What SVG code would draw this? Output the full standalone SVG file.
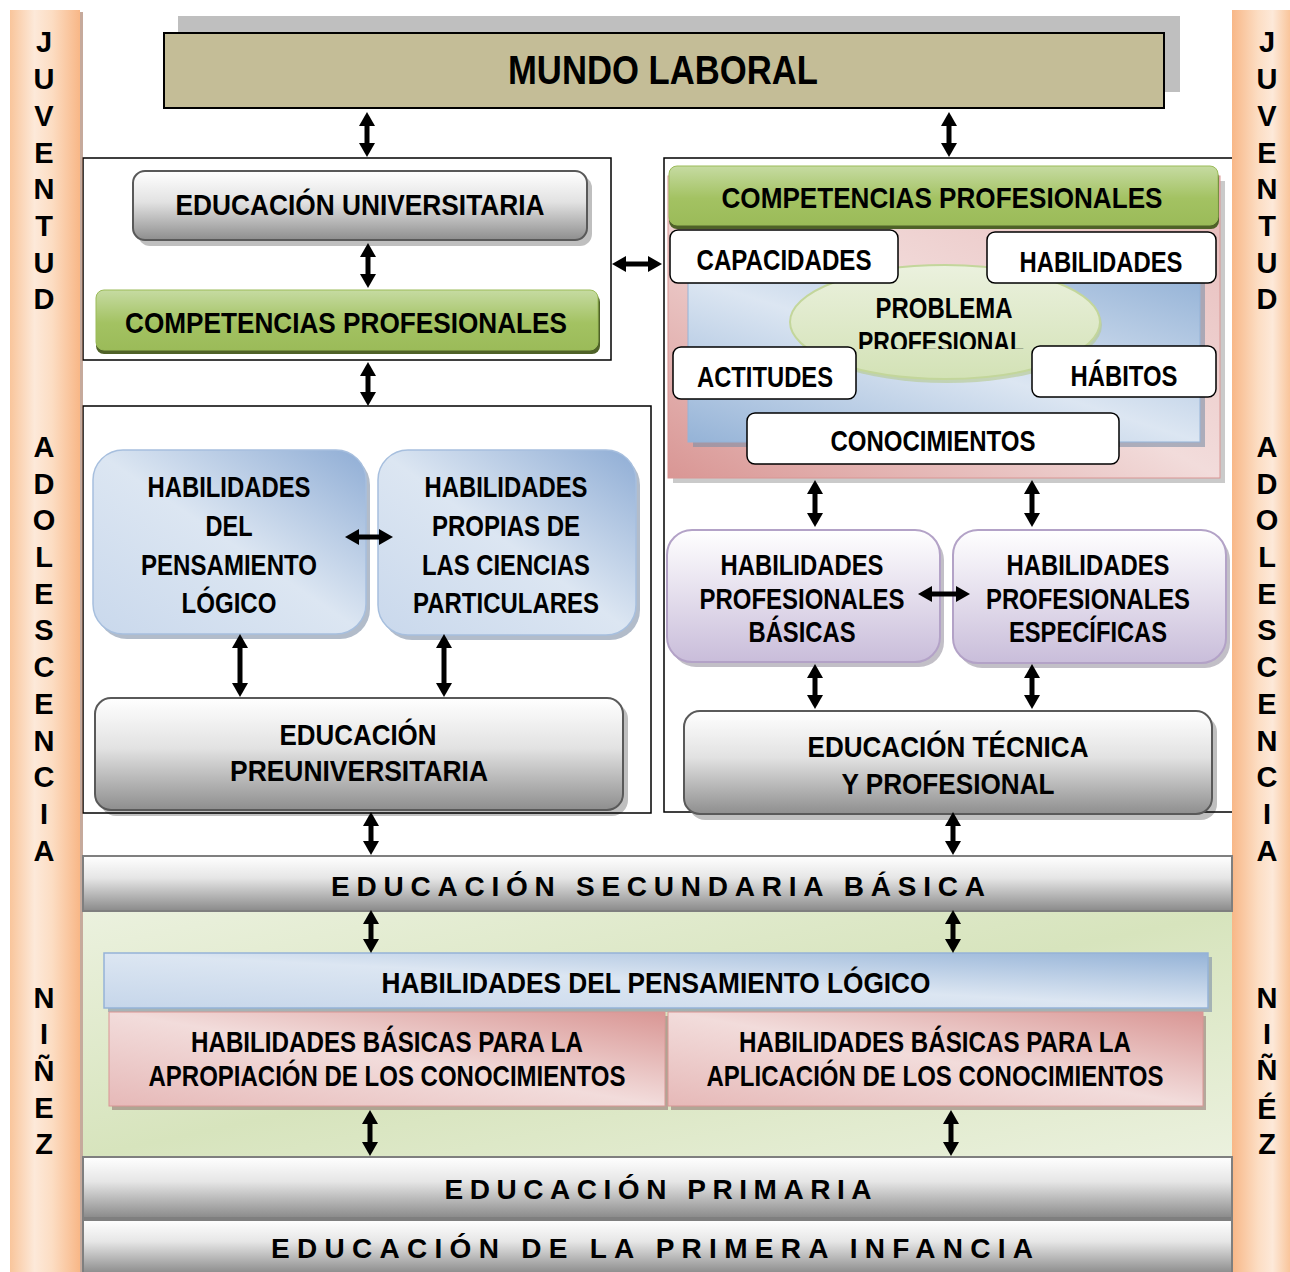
<svg xmlns="http://www.w3.org/2000/svg" width="1290" height="1272" viewBox="0 0 1290 1272">
<defs>
<style>
.t{font-family:"Liberation Sans Narrow","Liberation Sans",Arial,sans-serif;font-weight:bold;font-size:30px;fill:#000;text-anchor:middle}
.v{font-family:"Liberation Sans",Arial,sans-serif;font-weight:bold;font-size:29px;fill:#000;text-anchor:middle}
.band{font-family:"Liberation Sans",Arial,sans-serif;font-weight:bold;font-size:28px;fill:#000;text-anchor:middle}
.frame{fill:#fff;stroke:#000;stroke-width:1.5}
.gray{fill:url(#gGray);stroke:#595959;stroke-width:2}
.shadow{fill:#000;opacity:0.25}
.wbox{fill:#fff;stroke:#000;stroke-width:1.5}
.arr{stroke:#000;stroke-width:5;fill:none;marker-start:url(#ah);marker-end:url(#ah)}
</style>
<marker id="ah" viewBox="0 0 14 16" markerWidth="14" markerHeight="16" refX="2" refY="8" orient="auto-start-reverse" markerUnits="userSpaceOnUse"><path d="M0,0 L14,8 L0,16 z" fill="#000"/></marker>
<linearGradient id="gOrange" x1="0" y1="0" x2="1" y2="0"><stop offset="0" stop-color="#F9C59B"/><stop offset="0.35" stop-color="#FDE9D9"/><stop offset="0.6" stop-color="#FCDDC3"/><stop offset="1" stop-color="#F8B787"/></linearGradient>
<linearGradient id="gOrangeR" x1="0" y1="0" x2="1" y2="0"><stop offset="0" stop-color="#F8B787"/><stop offset="0.45" stop-color="#FCDDC3"/><stop offset="0.7" stop-color="#FDE9D9"/><stop offset="1" stop-color="#F9C59B"/></linearGradient>
<linearGradient id="gGray" x1="0" y1="0" x2="0" y2="1"><stop offset="0" stop-color="#FFFFFF"/><stop offset="0.45" stop-color="#E2E2E2"/><stop offset="1" stop-color="#8E8E8E"/></linearGradient>
<linearGradient id="gBand" x1="0" y1="0" x2="0" y2="1"><stop offset="0" stop-color="#FFFFFF"/><stop offset="0.4" stop-color="#E6E6E6"/><stop offset="1" stop-color="#8A8A8A"/></linearGradient>
<linearGradient id="gGreen" x1="0" y1="0" x2="0" y2="1"><stop offset="0" stop-color="#C6DBA2"/><stop offset="0.55" stop-color="#A3C262"/><stop offset="1" stop-color="#9BBB59"/></linearGradient>
<linearGradient id="gBlue" x1="1" y1="0" x2="0" y2="1"><stop offset="0" stop-color="#8FADD5"/><stop offset="0.5" stop-color="#DCE6F2"/><stop offset="1" stop-color="#C9D8EC"/></linearGradient>
<linearGradient id="gBlueBand" x1="1" y1="0" x2="0" y2="1"><stop offset="0" stop-color="#95B3D7"/><stop offset="0.5" stop-color="#DCE6F2"/><stop offset="1" stop-color="#C6D6EA"/></linearGradient>
<linearGradient id="gPurple" x1="0" y1="0" x2="0" y2="1"><stop offset="0" stop-color="#FFFFFF"/><stop offset="1" stop-color="#C9BDDA"/></linearGradient>
<linearGradient id="gPink" x1="1" y1="0" x2="0" y2="1"><stop offset="0" stop-color="#D99694"/><stop offset="0.5" stop-color="#F2DCDB"/><stop offset="1" stop-color="#E6B9B8"/></linearGradient>
<linearGradient id="gPinkBg" x1="0" y1="1" x2="1" y2="0"><stop offset="0" stop-color="#D99694"/><stop offset="0.5" stop-color="#F2DCDB"/><stop offset="1" stop-color="#E6B9B8"/></linearGradient>
<linearGradient id="gInner" x1="0" y1="1" x2="1" y2="0"><stop offset="0" stop-color="#95B3D7"/><stop offset="0.5" stop-color="#DCE6F2"/><stop offset="1" stop-color="#95B3D7"/></linearGradient>
<linearGradient id="gEll" x1="0" y1="0" x2="0" y2="1"><stop offset="0" stop-color="#EBF1DE"/><stop offset="1" stop-color="#D3E2B6"/></linearGradient>
<linearGradient id="gGreenBg" x1="0" y1="0" x2="1" y2="1"><stop offset="0" stop-color="#EBF1DE"/><stop offset="0.5" stop-color="#D7E4BD"/><stop offset="1" stop-color="#EBF1DE"/></linearGradient>
<clipPath id="clipEll"><rect x="780" y="260" width="330" height="89"/></clipPath>
</defs>

<rect width="1290" height="1272" fill="#fff"/>

<!-- frames -->
<g id="frame-universidad"><rect class="frame" x="83" y="158" width="528" height="202"/></g>
<g id="frame-preuniversitaria"><rect class="frame" x="83" y="406" width="568" height="407"/></g>
<g id="frame-tecnica"><rect class="frame" x="664" y="158" width="572" height="654"/></g>

<!-- side bars -->
<g id="bar-left">
<rect x="80" y="12" width="3" height="1260" fill="#A0725A" opacity="0.6"/>
<rect x="10" y="10" width="70" height="1262" fill="url(#gOrange)"/>
<text class="v"><tspan x="44" y="52">J</tspan><tspan x="44" y="89">U</tspan><tspan x="44" y="126">V</tspan><tspan x="44" y="163">E</tspan><tspan x="44" y="199">N</tspan><tspan x="44" y="236">T</tspan><tspan x="44" y="273">U</tspan><tspan x="44" y="309">D</tspan></text>
<text class="v"><tspan x="44" y="457">A</tspan><tspan x="44" y="494">D</tspan><tspan x="44" y="530">O</tspan><tspan x="44" y="567">L</tspan><tspan x="44" y="604">E</tspan><tspan x="44" y="640">S</tspan><tspan x="44" y="677">C</tspan><tspan x="44" y="714">E</tspan><tspan x="44" y="751">N</tspan><tspan x="44" y="787">C</tspan><tspan x="44" y="824">I</tspan><tspan x="44" y="861">A</tspan></text>
<text class="v"><tspan x="44" y="1008">N</tspan><tspan x="44" y="1044">I</tspan><tspan x="44" y="1081">Ñ</tspan><tspan x="44" y="1118">E</tspan><tspan x="44" y="1154">Z</tspan></text>
</g>
<g id="bar-right">
<rect x="1232" y="10" width="58" height="1262" fill="url(#gOrangeR)"/>
<text class="v"><tspan x="1267" y="52">J</tspan><tspan x="1267" y="89">U</tspan><tspan x="1267" y="126">V</tspan><tspan x="1267" y="163">E</tspan><tspan x="1267" y="199">N</tspan><tspan x="1267" y="236">T</tspan><tspan x="1267" y="273">U</tspan><tspan x="1267" y="309">D</tspan></text>
<text class="v"><tspan x="1267" y="457">A</tspan><tspan x="1267" y="494">D</tspan><tspan x="1267" y="530">O</tspan><tspan x="1267" y="567">L</tspan><tspan x="1267" y="604">E</tspan><tspan x="1267" y="640">S</tspan><tspan x="1267" y="677">C</tspan><tspan x="1267" y="714">E</tspan><tspan x="1267" y="751">N</tspan><tspan x="1267" y="787">C</tspan><tspan x="1267" y="824">I</tspan><tspan x="1267" y="861">A</tspan></text>
<text class="v"><tspan x="1267" y="1008">N</tspan><tspan x="1267" y="1044">I</tspan><tspan x="1267" y="1080">Ñ</tspan><tspan x="1267" y="1119">É</tspan><tspan x="1267" y="1154">Z</tspan></text>
</g>

<!-- Mundo laboral -->
<g id="mundo-laboral">
<rect x="178" y="16" width="1002" height="76" fill="#BFBFBF"/>
<rect x="164" y="33" width="1000" height="75" fill="#C4BD97" stroke="#000" stroke-width="2"/>
<text class="t" x="663" y="84" style="font-size:40px" textLength="310" lengthAdjust="spacingAndGlyphs">MUNDO LABORAL</text>
</g>

<g id="educacion-universitaria">
<rect class="shadow" x="138" y="176" width="454" height="70" rx="12"/>
<rect class="gray" x="133" y="171" width="454" height="69" rx="12"/>
<text class="t" x="360" y="215" textLength="369" lengthAdjust="spacingAndGlyphs">EDUCACIÓN UNIVERSITARIA</text>
</g>

<g id="competencias-izq">
<rect x="96" y="294" width="504" height="60" rx="8" fill="#4F6228"/>
<rect x="96" y="290" width="502" height="60" rx="8" fill="url(#gGreen)" stroke="#9BBB59" stroke-width="1"/>
<text class="t" x="346" y="333" textLength="442" lengthAdjust="spacingAndGlyphs">COMPETENCIAS PROFESIONALES</text>
</g>

<g id="hab-pensamiento">
<rect x="97" y="455" width="273" height="184" rx="30" fill="#7F8FA6" opacity="0.6"/>
<rect x="93" y="450" width="273" height="184" rx="30" fill="url(#gBlue)" stroke="#A7BFDE" stroke-width="1.5"/>
<text class="t"><tspan x="229" y="497" textLength="163" lengthAdjust="spacingAndGlyphs">HABILIDADES</tspan><tspan x="229" y="536" textLength="47" lengthAdjust="spacingAndGlyphs">DEL</tspan><tspan x="229" y="575" textLength="176" lengthAdjust="spacingAndGlyphs">PENSAMIENTO</tspan><tspan x="229" y="613" textLength="95" lengthAdjust="spacingAndGlyphs">LÓGICO</tspan></text>
</g>

<g id="hab-ciencias">
<rect x="382" y="455" width="258" height="185" rx="30" fill="#7F8FA6" opacity="0.6"/>
<rect x="378" y="450" width="258" height="185" rx="30" fill="url(#gBlue)" stroke="#A7BFDE" stroke-width="1.5"/>
<text class="t"><tspan x="506" y="497" textLength="163" lengthAdjust="spacingAndGlyphs">HABILIDADES</tspan><tspan x="506" y="536" textLength="148" lengthAdjust="spacingAndGlyphs">PROPIAS DE</tspan><tspan x="506" y="575" textLength="168" lengthAdjust="spacingAndGlyphs">LAS CIENCIAS</tspan><tspan x="506" y="613" textLength="186" lengthAdjust="spacingAndGlyphs">PARTICULARES</tspan></text>
</g>

<g id="educacion-preuniversitaria">
<rect class="shadow" x="100" y="703" width="528" height="113" rx="16"/>
<rect class="gray" x="95" y="698" width="528" height="112" rx="16"/>
<text class="t"><tspan x="358" y="745" textLength="157" lengthAdjust="spacingAndGlyphs">EDUCACIÓN</tspan><tspan x="359" y="781" textLength="258" lengthAdjust="spacingAndGlyphs">PREUNIVERSITARIA</tspan></text>
</g>

<!-- right competencias cluster -->
<g id="competencias-der">
<rect x="673" y="181" width="552" height="302" fill="#A6A6A6" opacity="0.6"/>
<rect x="668" y="176" width="552" height="302" fill="url(#gPinkBg)" stroke="#D99694" stroke-width="1"/>
<rect x="693" y="282" width="512" height="165" fill="#7F8FA6" opacity="0.6"/>
<rect x="688" y="277" width="512" height="165" fill="url(#gInner)" stroke="#95B3D7" stroke-width="1"/>
<rect x="669" y="170" width="550" height="59" rx="8" fill="#4F6228"/>
<rect x="669" y="166" width="549" height="59" rx="8" fill="url(#gGreen)" stroke="#9BBB59" stroke-width="1"/>
<text class="t" x="942" y="208" textLength="441" lengthAdjust="spacingAndGlyphs">COMPETENCIAS PROFESIONALES</text>
</g>

<g id="problema-profesional">
<ellipse cx="947" cy="325" rx="155" ry="58" fill="#B5C98E" opacity="0.6"/>
<ellipse cx="945" cy="322" rx="155" ry="57" fill="url(#gEll)" stroke="#C3D69B" stroke-width="2"/>
<text class="t" clip-path="url(#clipEll)"><tspan x="944" y="318" textLength="137" lengthAdjust="spacingAndGlyphs">PROBLEMA</tspan><tspan x="941" y="352" textLength="166" lengthAdjust="spacingAndGlyphs">PROFESIONAL</tspan></text>
</g>

<g id="capacidades">
<rect class="wbox" x="670" y="230" width="228" height="53" rx="8"/>
<text class="t" x="784" y="270" textLength="175" lengthAdjust="spacingAndGlyphs">CAPACIDADES</text>
</g>
<g id="habilidades">
<rect class="wbox" x="987" y="232" width="229" height="51" rx="8"/>
<text class="t" x="1101" y="272" textLength="163" lengthAdjust="spacingAndGlyphs">HABILIDADES</text>
</g>
<g id="actitudes">
<rect class="wbox" x="673" y="347" width="183" height="52" rx="8"/>
<text class="t" x="765" y="387" textLength="136" lengthAdjust="spacingAndGlyphs">ACTITUDES</text>
</g>
<g id="habitos">
<rect class="wbox" x="1032" y="346" width="184" height="51" rx="8"/>
<text class="t" x="1124" y="386" textLength="107" lengthAdjust="spacingAndGlyphs">HÁBITOS</text>
</g>
<g id="conocimientos">
<rect class="wbox" x="747" y="413" width="372" height="51" rx="8"/>
<text class="t" x="933" y="451" textLength="205" lengthAdjust="spacingAndGlyphs">CONOCIMIENTOS</text>
</g>

<g id="hab-prof-basicas">
<rect x="671" y="535" width="273" height="132" rx="25" fill="#8F8A99" opacity="0.55"/>
<rect x="667" y="530" width="273" height="132" rx="25" fill="url(#gPurple)" stroke="#B3A2C7" stroke-width="2"/>
<text class="t"><tspan x="802" y="575" textLength="163" lengthAdjust="spacingAndGlyphs">HABILIDADES</tspan><tspan x="802" y="609" textLength="205" lengthAdjust="spacingAndGlyphs">PROFESIONALES</tspan><tspan x="802" y="642" textLength="107" lengthAdjust="spacingAndGlyphs">BÁSICAS</tspan></text>
</g>
<g id="hab-prof-especificas">
<rect x="957" y="535" width="273" height="133" rx="25" fill="#8F8A99" opacity="0.55"/>
<rect x="953" y="530" width="273" height="133" rx="25" fill="url(#gPurple)" stroke="#B3A2C7" stroke-width="2"/>
<text class="t"><tspan x="1088" y="575" textLength="163" lengthAdjust="spacingAndGlyphs">HABILIDADES</tspan><tspan x="1088" y="609" textLength="204" lengthAdjust="spacingAndGlyphs">PROFESIONALES</tspan><tspan x="1088" y="642" textLength="158" lengthAdjust="spacingAndGlyphs">ESPECÍFICAS</tspan></text>
</g>

<g id="educacion-tecnica">
<rect class="shadow" x="689" y="716" width="528" height="104" rx="16"/>
<rect class="gray" x="684" y="711" width="528" height="103" rx="16"/>
<text class="t"><tspan x="948" y="757" textLength="281" lengthAdjust="spacingAndGlyphs">EDUCACIÓN TÉCNICA</tspan><tspan x="948" y="794" textLength="213" lengthAdjust="spacingAndGlyphs">Y PROFESIONAL</tspan></text>
</g>

<!-- lower section -->
<g id="zona-ninez"><rect x="83" y="912" width="1149" height="245" fill="url(#gGreenBg)"/></g>

<g id="educacion-secundaria">
<rect x="83" y="856" width="1149" height="55" fill="url(#gBand)" stroke="#7F7F7F" stroke-width="2"/>
<text class="band" x="658" y="896" textLength="654" lengthAdjust="spacing">EDUCACIÓN  SECUNDARIA  BÁSICA</text>
</g>

<g id="hab-pensamiento-logico">
<rect x="108" y="957" width="1104" height="55" fill="#7F8FA6" opacity="0.6"/>
<rect x="104" y="953" width="1104" height="55" fill="url(#gBlueBand)" stroke="#95B3D7" stroke-width="1.5"/>
<text class="t" x="656" y="993" textLength="549" lengthAdjust="spacingAndGlyphs">HABILIDADES DEL PENSAMIENTO LÓGICO</text>
</g>

<g id="hab-apropiacion">
<rect x="112" y="1016" width="556" height="94" fill="#8C6F6E" opacity="0.55"/>
<rect x="109" y="1012" width="556" height="94" fill="url(#gPink)" stroke="#D99694" stroke-width="1"/>
<text class="t"><tspan x="387" y="1052" textLength="392" lengthAdjust="spacingAndGlyphs">HABILIDADES BÁSICAS PARA LA</tspan><tspan x="387" y="1086" textLength="477" lengthAdjust="spacingAndGlyphs">APROPIACIÓN DE LOS CONOCIMIENTOS</tspan></text>
</g>
<g id="hab-aplicacion">
<rect x="671" y="1016" width="535" height="94" fill="#8C6F6E" opacity="0.55"/>
<rect x="668" y="1012" width="535" height="94" fill="url(#gPink)" stroke="#D99694" stroke-width="1"/>
<text class="t"><tspan x="935" y="1052" textLength="392" lengthAdjust="spacingAndGlyphs">HABILIDADES BÁSICAS PARA LA</tspan><tspan x="935" y="1086" textLength="457" lengthAdjust="spacingAndGlyphs">APLICACIÓN DE LOS CONOCIMIENTOS</tspan></text>
</g>

<g id="educacion-primaria">
<rect x="83" y="1157" width="1149" height="61" fill="url(#gBand)" stroke="#7F7F7F" stroke-width="2"/>
<text class="band" x="658" y="1199" textLength="427" lengthAdjust="spacing">EDUCACIÓN  PRIMARIA</text>
</g>
<g id="educacion-primera-infancia">
<rect x="83" y="1220" width="1149" height="54" fill="url(#gBand)" stroke="#7F7F7F" stroke-width="2"/>
<text class="band" x="652" y="1258" textLength="762" lengthAdjust="spacing">EDUCACIÓN  DE  LA  PRIMERA  INFANCIA</text>
</g>

<!-- connectors -->
<g id="connectors">
<line class="arr" x1="367" y1="124" x2="367" y2="145"/>
<line class="arr" x1="949" y1="124" x2="949" y2="145"/>
<line class="arr" x1="368" y1="255" x2="368" y2="276"/>
<line class="arr" x1="368" y1="374" x2="368" y2="394"/>
<line class="arr" x1="624" y1="264" x2="650" y2="264"/>
<line class="arr" x1="357" y1="537" x2="381" y2="537"/>
<line class="arr" x1="240" y1="646" x2="240" y2="685"/>
<line class="arr" x1="444" y1="646" x2="444" y2="685"/>
<line class="arr" x1="815" y1="492" x2="815" y2="515"/>
<line class="arr" x1="1032" y1="492" x2="1032" y2="515"/>
<line class="arr" x1="930" y1="594" x2="958" y2="594"/>
<line class="arr" x1="815" y1="676" x2="815" y2="697"/>
<line class="arr" x1="1032" y1="676" x2="1032" y2="697"/>
<line class="arr" x1="371" y1="824" x2="371" y2="843"/>
<line class="arr" x1="953" y1="824" x2="953" y2="843"/>
<line class="arr" x1="371" y1="922" x2="371" y2="941"/>
<line class="arr" x1="953" y1="922" x2="953" y2="941"/>
<line class="arr" x1="370" y1="1122" x2="370" y2="1144"/>
<line class="arr" x1="951" y1="1122" x2="951" y2="1144"/>
</g>
</svg>
